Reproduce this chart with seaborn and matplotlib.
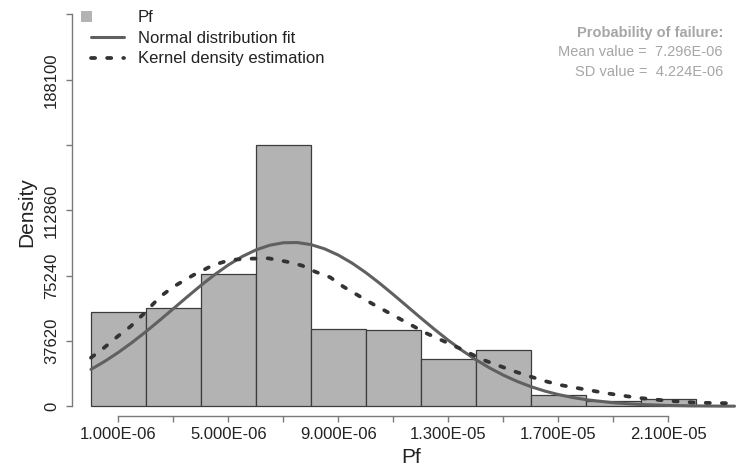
import numpy as np
import pandas as pd
import matplotlib
matplotlib.use('Agg')
import matplotlib.pyplot as plt
import seaborn as sns
from matplotlib.patches import Patch, Rectangle
from matplotlib.lines import Line2D
from matplotlib.legend_handler import HandlerPatch
from matplotlib.ticker import FixedLocator, FuncFormatter

# histogram (density), bins of width 2E-06
bin_edges = [0.0, 2e-6, 4e-6, 6e-6, 8e-6, 10e-6, 12e-6, 14e-6, 16e-6, 18e-6, 20e-6, 22e-6]
bar_density = [54500, 56460, 76040, 150480, 44360, 43960, 27420, 32430, 6510, 3050, 4380]

# normal distribution fit (mean 7.296E-06, sd 4.224E-06), read as points
norm_x = [0, 0.5, 1, 1.5, 2, 2.5, 3, 3.5, 4, 4.5, 5, 5.5, 6, 6.5, 7, 7.5, 8, 8.5, 9, 9.5,
          10, 10.5, 11, 11.5, 12, 12.5, 13, 13.5, 14, 14.5, 15, 15.5, 16, 16.5, 17, 17.5,
          18, 19, 20, 21, 22, 23, 23.4]
norm_y = [21250, 25890, 31100, 36840, 43040, 49580, 56310, 63070, 69670, 75870, 81480, 86290,
          90100, 92790, 94220, 94340, 93140, 90690, 87060, 82430, 76950, 70840, 64300, 57560,
          50800, 44220, 37950, 32120, 26800, 22060, 17900, 14320, 11300, 8790, 6750, 5100,
          3810, 2030, 1026, 489, 221, 94, 70]

# kernel density estimation, read as points
kde_x = [0, 0.45, 1.0, 1.43, 1.9, 2.52, 3.0, 3.73, 4.45, 5.06, 5.66, 6.45, 7.12, 7.67, 8.15,
         8.7, 9.18, 10.2, 11.24, 12.2, 13.4, 14.27, 15.43, 16.45, 17.06, 18.76, 19.85, 20.94,
         22.03, 23.36]
kde_y = [28000, 33400, 40660, 45870, 53000, 63200, 68900, 75650, 81400, 84300, 85000, 85260,
         83300, 81100, 77550, 74300, 68900, 59340, 50300, 42050, 33400, 26670, 19930, 14750,
         12270, 7490, 4950, 3230, 2070, 1730]

x_ticks = [1e-6, 3e-6, 5e-6, 7e-6, 9e-6, 11e-6, 13e-6, 15e-6, 17e-6, 19e-6, 21e-6]
x_labeled = [1e-6, 5e-6, 9e-6, 13e-6, 17e-6, 21e-6]
y_ticks = [0, 37620, 75240, 112860, 150480, 188100, 225720]
y_labels = ['0', '37620', '75240', '112860', '', '188100', '']

mean_pf = '7.296E-06'
sd_pf = '4.224E-06'

sns.set_theme(style='white')
plt.rcParams['font.family'] = ['Liberation Sans', 'DejaVu Sans']

W, H = 744, 469
fig = plt.figure(figsize=(W / 100, H / 100), dpi=100)
ax = fig.add_axes([72 / W, (H - 415.7) / H, (740 - 72) / W, (415.7 - 8) / H])

kde_style = dict(color='#333333', linewidth=2.7, linestyle=(0, (1.1, 3.2)),
                 dash_capstyle='round')
norm_style = dict(color='#606060', linewidth=2.2)

centers = [(a + b) / 2 for a, b in zip(bin_edges[:-1], bin_edges[1:])]
hist_df = pd.DataFrame({'Pf': centers, 'dens': bar_density})
sns.histplot(data=hist_df, x='Pf', weights='dens', bins=bin_edges, stat='count',
             color='#b3b3b3', alpha=1, edgecolor='#3c3c3c', linewidth=0.9, ax=ax)

norm_df = pd.DataFrame({'Pf': np.array(norm_x) * 1e-6, 'dens': norm_y})
sns.lineplot(data=norm_df, x='Pf', y='dens', ax=ax, **norm_style)

kde_df = pd.DataFrame({'Pf': np.array(kde_x) * 1e-6, 'dens': kde_y})
sns.lineplot(data=kde_df, x='Pf', y='dens', ax=ax, **kde_style)

ax.set_xlim(-0.69e-6, 23.6e-6)
ax.set_ylim(-5415, 229460)

for side in ['top', 'right']:
    ax.spines[side].set_visible(False)
for side in ['left', 'bottom']:
    ax.spines[side].set_color('#7a7a7a')
    ax.spines[side].set_linewidth(1.0)
ax.spines['bottom'].set_bounds(x_ticks[0], x_ticks[-1])
ax.spines['left'].set_bounds(y_ticks[0], y_ticks[-1])

ax.xaxis.set_major_locator(FixedLocator(x_ticks))
ax.xaxis.set_major_formatter(FuncFormatter(
    lambda v, p: f'{v:.3E}' if any(abs(v - t) < 1e-9 for t in x_labeled) else ''))
ax.set_yticks(y_ticks)
ax.set_yticklabels(y_labels, rotation=90, va='center')

ax.tick_params(axis='both', which='major', direction='out', length=4.3, width=1.0,
               color='#7a7a7a', labelsize=12, labelcolor='#222222', bottom=True, left=True)
ax.tick_params(axis='x', pad=4)
ax.tick_params(axis='y', pad=5)

ax.set_xlabel('Pf', fontsize=15, color='#222222')
ax.set_ylabel('Density', fontsize=15, color='#222222')
ax.xaxis.set_label_coords(0.508, -0.078)
ax.yaxis.set_label_coords(-0.054, 0.5)
ax.grid(False)


def square_handle(legend, orig_handle, xdescent, ydescent, width, height, fontsize):
    return Rectangle((-xdescent - 7.2, -ydescent + height / 2 - 4.2), 8.4, 8.4)


handles = [Patch(facecolor='#b3b3b3', edgecolor='none'),
           Line2D([], [], **norm_style),
           Line2D([], [], **kde_style)]
labels = ['Pf', 'Normal distribution fit', 'Kernel density estimation']
leg = ax.legend(handles, labels, loc='upper left', bbox_to_anchor=(90.7 / W, 1 - 10.5 / H),
                bbox_transform=fig.transFigure, frameon=False, fontsize=12,
                handlelength=2.0, handletextpad=0.82, labelspacing=0.33, borderpad=0,
                borderaxespad=0, handler_map={Patch: HandlerPatch(patch_func=square_handle)})
for t in leg.get_texts():
    t.set_color('#222222')

fig.text(723 / W, 1 - 33 / H, 'Probability of failure:', ha='right', va='center',
         fontsize=10.5, fontweight='bold', color='#a6a6a6')
fig.text(723 / W, 1 - 52.5 / H, f'Mean value =  {mean_pf}', ha='right', va='center',
         fontsize=10.5, color='#a6a6a6')
fig.text(723 / W, 1 - 72 / H, f'SD value =  {sd_pf}', ha='right', va='center',
         fontsize=10.5, color='#a6a6a6')

fig.savefig('out.png', dpi=100)
